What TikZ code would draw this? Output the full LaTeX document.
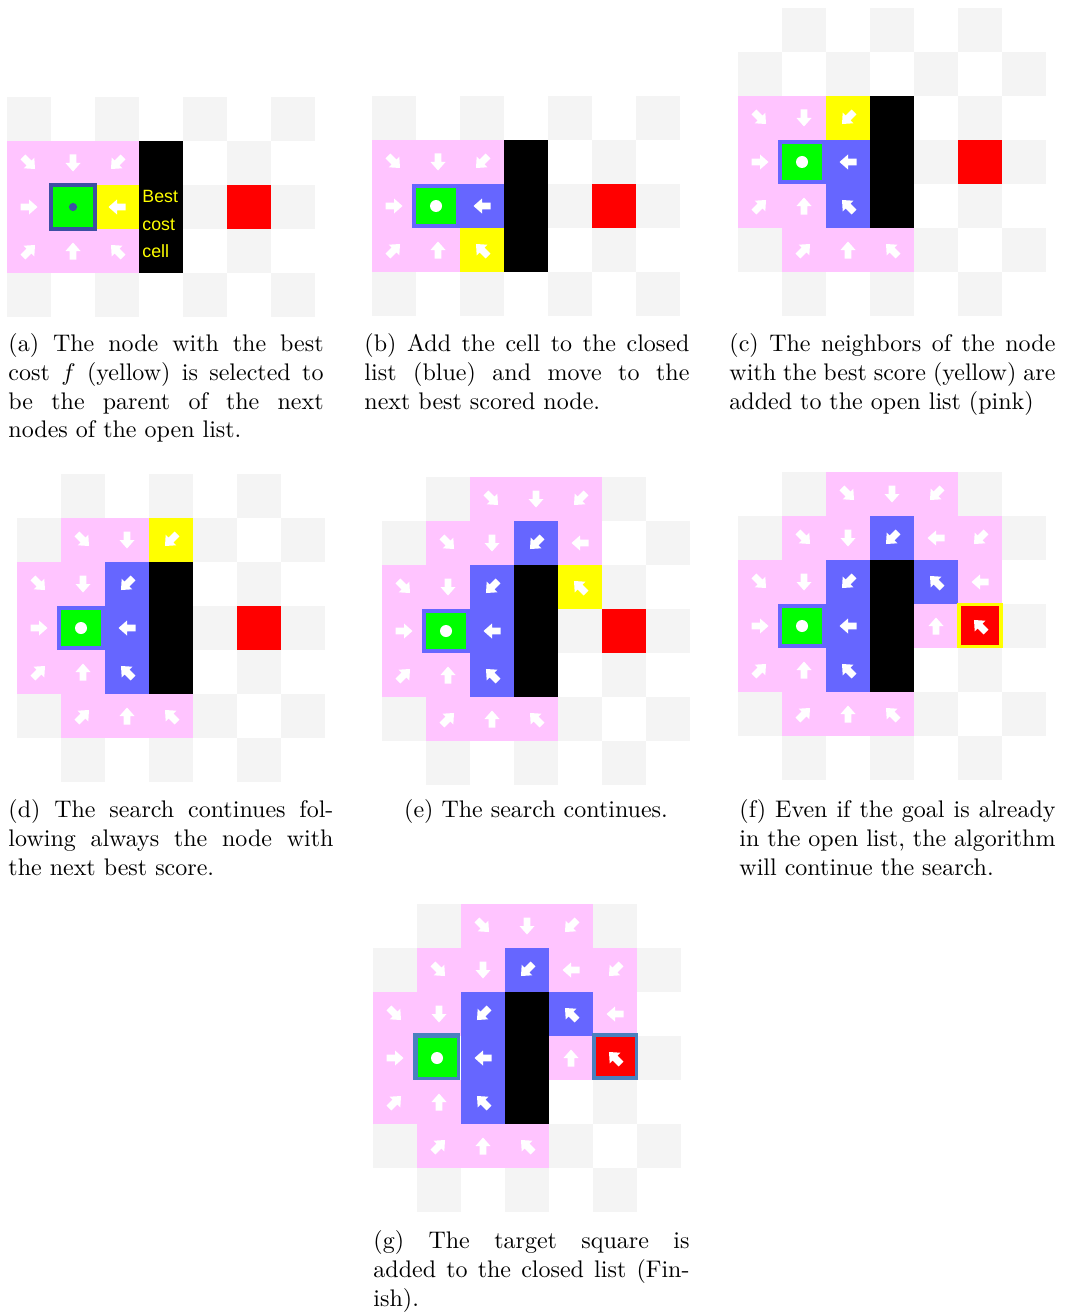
\documentclass[tikz,border=0pt]{standalone}
\usepackage{xcolor}
\usepackage{fontspec}
\usepackage{tikz}
\usetikzlibrary{positioning}
\newfontfamily\gamefont{Liberation Sans}
\definecolor{checkgray}{HTML}{F4F4F4}
\definecolor{openpink}{HTML}{FFC4FF}
\definecolor{closedblue}{HTML}{6666FF}
\definecolor{bestyellow}{HTML}{FFFF00}
\definecolor{startgreen}{HTML}{00FF00}
\definecolor{goalred}{HTML}{FF0000}
\definecolor{startrim}{HTML}{3D4FA3}
\definecolor{finrim}{HTML}{4A80BF}

% board: left edge, top of the start row, rows above/below it
\newcommand{\gx}{0}
\newcommand{\gy}{0}
\newcommand{\board}[3]{%
  \renewcommand{\gx}{#1}\renewcommand{\gy}{#2}%
  \foreach \i in {0,...,6} \foreach \j in {-#3,...,#3} {
    \ifodd\numexpr\i+\j+10\relax\else
      \fill[checkgray] ({#1+44*\i},{#2+44*(\j)}) rectangle ++(44,44);
    \fi}
  \fill[black] ({#1+132},{#2-44}) rectangle ++(44,132);
  \fill[goalred] ({#1+220},#2) rectangle ++(44,44);}
\newcommand{\arw}[3]{%
  \fill[white,shift={({\gx+44*#1+22},{\gy+44*(#2)+22})},rotate=#3]
    (-8.5,-3.4) -- (0,-3.4) -- (0,-7.5) -- (8.5,0) -- (0,7.5) -- (0,3.4) -- (-8.5,3.4) -- cycle;}
\newcommand{\cells}[2]{%
  \foreach \i/\j/\ang in {#2} {
    \fill[#1] ({\gx+44*\i},{\gy+44*(\j)}) rectangle ++(44,44);
    \arw{\i}{\j}{\ang}}}
\newcommand{\starttile}{%
  \fill[closedblue] ({\gx+40},\gy) rectangle ++(48,44);
  \fill[startgreen] ({\gx+44},{\gy+4}) rectangle ++(40,36);
  \fill[white] ({\gx+64},{\gy+22}) circle[radius=2.5pt];}

\begin{document}
\begin{tikzpicture}[x=0.41667pt,y=-0.41667pt,
  subcap/.style={anchor=north west,inner sep=0pt,align=justify},
  bestlbl/.style={anchor=base west,inner sep=0pt,text=bestyellow,
    font=\gamefont\fontsize{7.4}{9}\selectfont}]
  \useasboundingbox (0,0) rectangle (1066,1312);

  % (a)
  \board{7}{185}{2}
  \cells{openpink}{0/-1/315,1/-1/270,2/-1/225,0/0/0,0/1/45,1/1/90,2/1/135}
  \cells{bestyellow}{2/0/180}
  \fill[startrim] (49,183) rectangle ++(48,48);
  \fill[startgreen] (53,187) rectangle ++(40,40);
  \fill[startrim] (73,207) circle[radius=1.7pt];
  \foreach \w/\b in {Best/203,cost/230,cell/257}
    \node[bestlbl] (lbl\w) at (142,\b) {\w};
  \node[subcap,text width=131.3pt] (capa) at (8,333)
    {(a) The node with the best\linebreak cost $f$ (yellow) is selected to\linebreak
     be the parent of the next\linebreak nodes of the open list.};

  % (b)
  \board{372}{184}{2}
  \cells{openpink}{0/-1/315,1/-1/270,2/-1/225,0/0/0,0/1/45,1/1/90}
  \cells{closedblue}{2/0/180}
  \cells{bestyellow}{2/1/135}
  \starttile
  \node[subcap,text width=135.4pt] (capb) at (364,333)
    {(b) Add the cell to the closed\linebreak list (blue) and move to the\linebreak
     next best scored node.};

  % (c)
  \board{738}{140}{3}
  \cells{openpink}{0/-1/315,1/-1/270,0/0/0,0/1/45,1/1/90,1/2/45,2/2/90,3/2/135}
  \cells{bestyellow}{2/-1/225}
  \cells{closedblue}{2/0/180,2/1/135}
  \starttile
  \node[subcap,text width=135.8pt] (capc) at (729,333)
    {(c) The neighbors of the node\linebreak with the best score (yellow) are\linebreak
     added to the open list (pink)};

  % (d)
  \board{17}{606}{3}
  \cells{openpink}{1/-2/315,2/-2/270,0/-1/315,1/-1/270,0/0/0,0/1/45,1/1/90,
    1/2/45,2/2/90,3/2/135}
  \cells{bestyellow}{3/-2/225}
  \cells{closedblue}{2/-1/225,2/0/180,2/1/135}
  \starttile
  \node[subcap,text width=135.4pt] (capd) at (8,799)
    {(d) The search continues fol-\linebreak lowing always the node with\linebreak
     the next best score.};

  % (e)
  \board{382}{609}{3}
  \cells{openpink}{2/-3/315,3/-3/270,4/-3/225,1/-2/315,2/-2/270,4/-2/180,
    0/-1/315,1/-1/270,0/0/0,0/1/45,1/1/90,1/2/45,2/2/90,3/2/135}
  \cells{closedblue}{3/-2/225,2/-1/225,2/0/180,2/1/135}
  \cells{bestyellow}{4/-1/135}
  \starttile
  \node[subcap,anchor=north,align=center] (cape) at (536,799) {(e) The search continues.};

  % (f)
  \board{738}{604}{3}
  \cells{openpink}{2/-3/315,3/-3/270,4/-3/225,1/-2/315,2/-2/270,4/-2/180,5/-2/225,
    0/-1/315,1/-1/270,5/-1/180,0/0/0,4/0/90,0/1/45,1/1/90,1/2/45,2/2/90,3/2/135}
  \cells{closedblue}{3/-2/225,2/-1/225,4/-1/135,2/0/180,2/1/135}
  \starttile
  \fill[bestyellow] ({\gx+219},{\gy-1}) rectangle ++(46,45);
  \fill[goalred] ({\gx+223},{\gy+2}) rectangle ++(38,39);
  \arw{5}{0}{135}
  \node[subcap,text width=131.7pt] (capf) at (739,799)
    {(f) Even if the goal is already\linebreak in the open list, the algorithm\linebreak
     will continue the search.};

  % (g)
  \board{373}{1036}{3}
  \cells{openpink}{2/-3/315,3/-3/270,4/-3/225,1/-2/315,2/-2/270,4/-2/180,5/-2/225,
    0/-1/315,1/-1/270,5/-1/180,0/0/0,4/0/90,0/1/45,1/1/90,1/2/45,2/2/90,3/2/135}
  \cells{closedblue}{3/-2/225,2/-1/225,4/-1/135,2/0/180,2/1/135}
  \fill[finrim] ({\gx+40},{\gy-3}) rectangle ++(47,47);
  \fill[startgreen] ({\gx+45},{\gy+2}) rectangle ++(39,39);
  \fill[white] ({\gx+64},{\gy+22}) circle[radius=2.5pt];
  \fill[finrim] ({\gx+219},{\gy-3}) rectangle ++(46,47);
  \fill[goalred] ({\gx+223},{\gy+1}) rectangle ++(39,39);
  \arw{5}{0}{135}
  \node[subcap,text width=131.7pt] (capg) at (373,1230)
    {(g) The target square is\linebreak added to the closed list (Fin-\linebreak ish).};
\end{tikzpicture}
\end{document}
